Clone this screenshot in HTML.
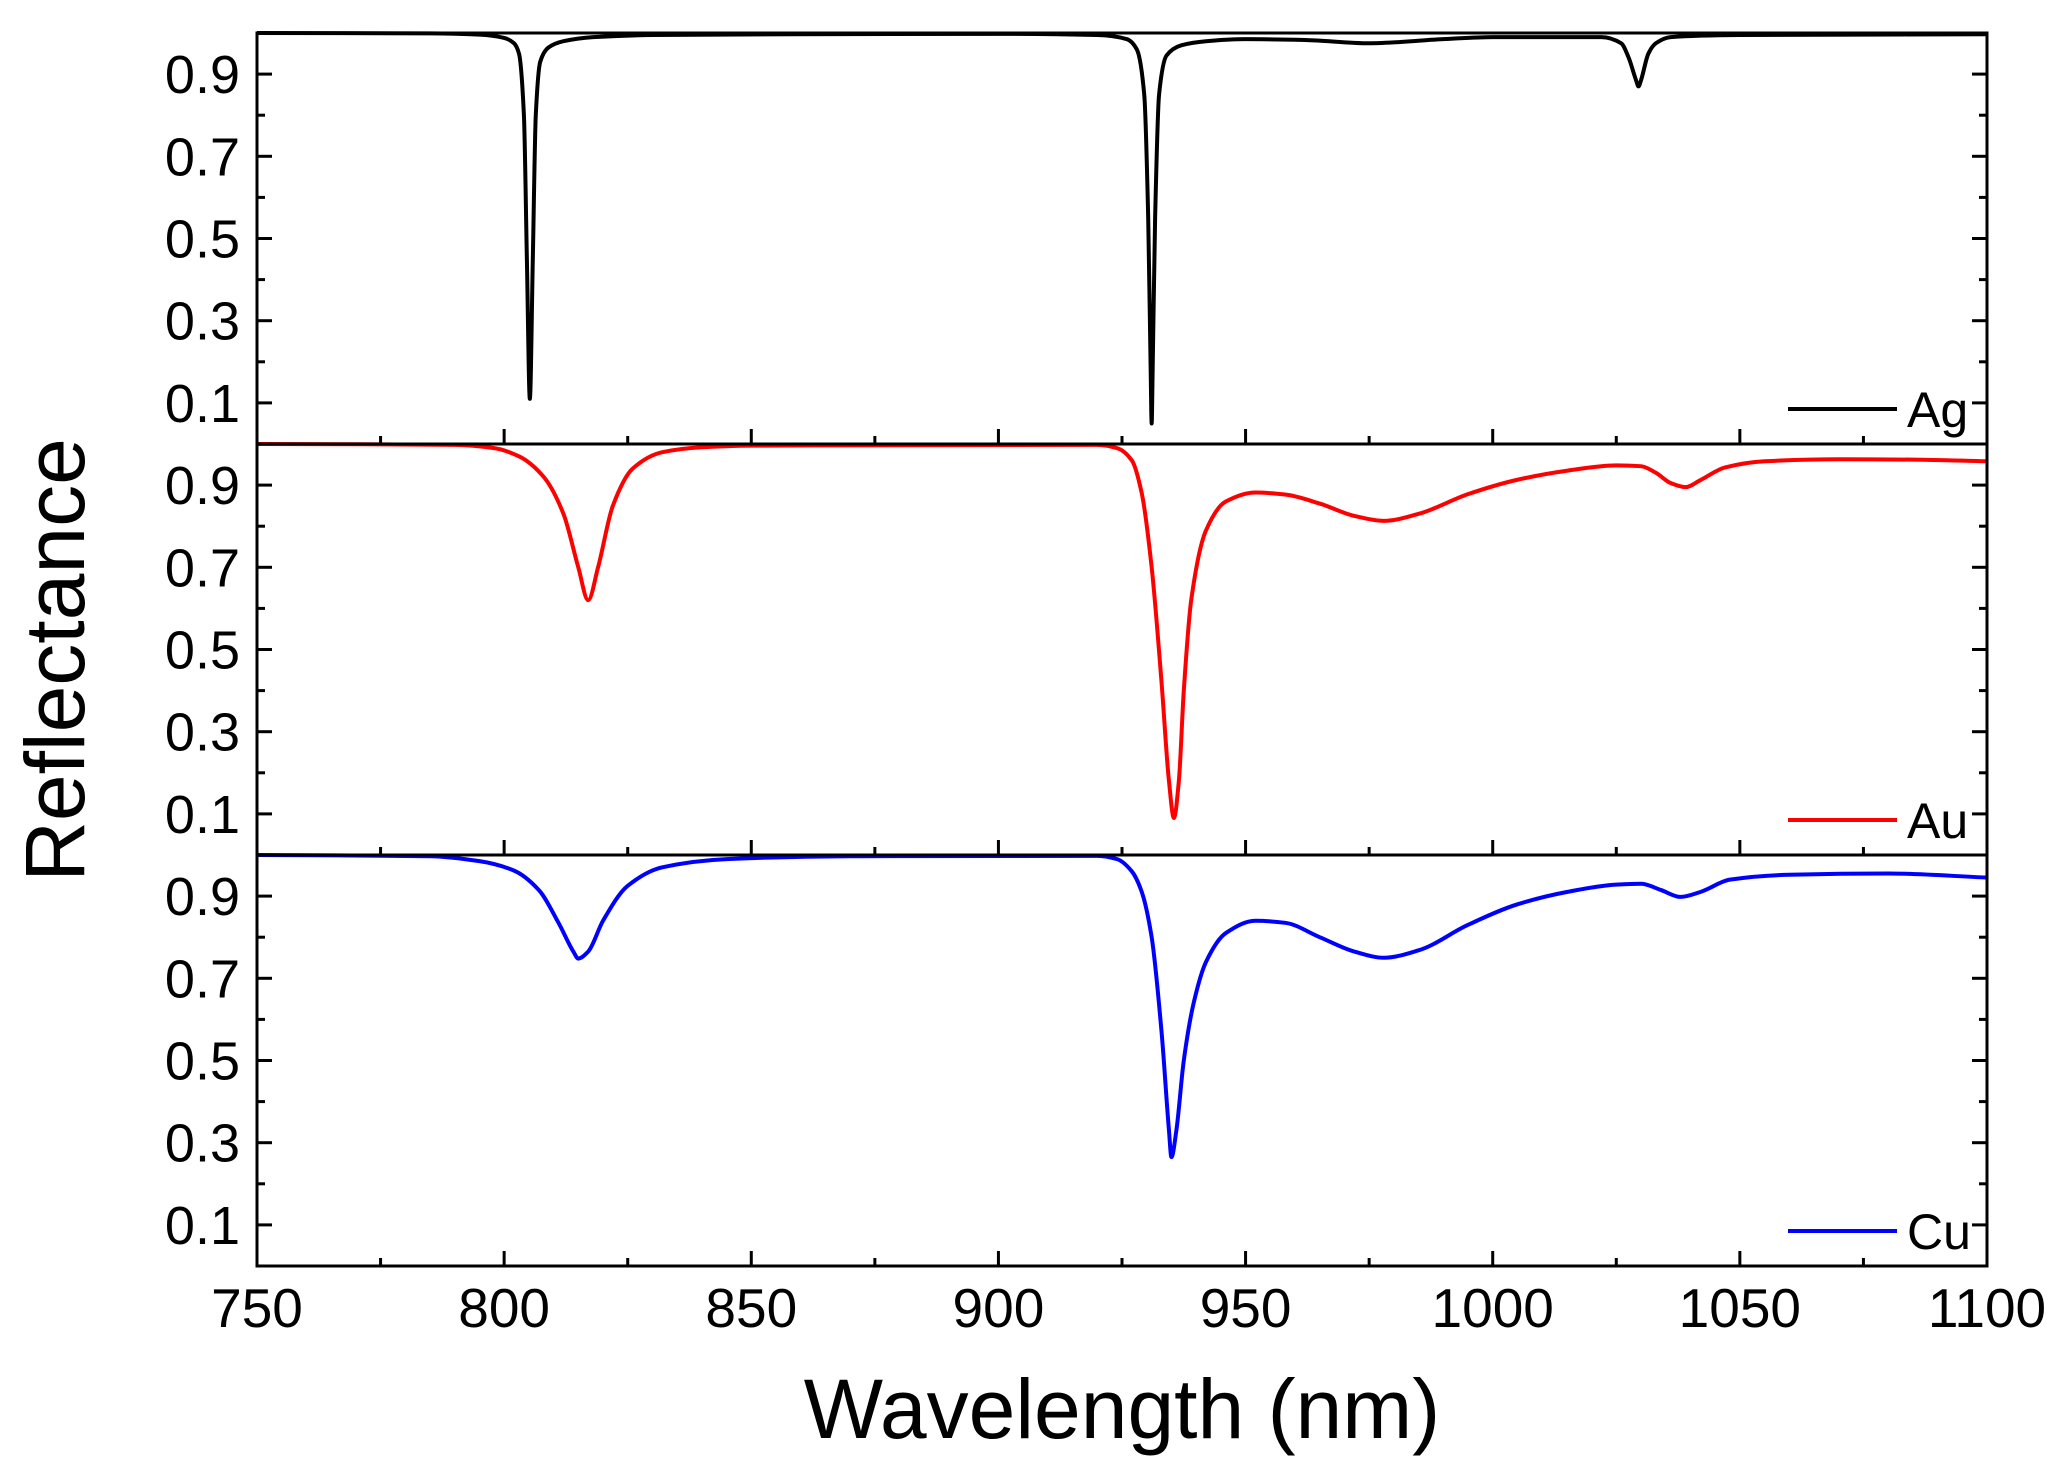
<!DOCTYPE html>
<html><head><meta charset="utf-8"><style>
html,body{margin:0;padding:0;background:#fff;}
svg{display:block;font-family:"Liberation Sans",sans-serif;}
</style></head><body>
<svg id="chart" width="2070" height="1480" viewBox="0 0 2070 1480" xmlns="http://www.w3.org/2000/svg"></svg>
<script>
const xTicks=[750,800,850,900,950,1000,1050,1100];
const yTicks=[0.1,0.3,0.5,0.7,0.9];
const seriesNames=["Ag","Au","Cu"];
const seriesColors=["#000000","#ff0000","#0000ff"];
const agX=[750,785,795,800,802,803,804,804.6,805.2,805.8,806.4,807.3,809,812,818,830,900,920,926,928,929.5,930.3,930.8,931,931.2,931.7,932.5,934,937,942,950,962,975,990,1000,1022,1026,1027.5,1029,1029.5,1030,1031.5,1033,1036,1050,1100];
const agY=[1.0,0.999,0.996,0.988,0.975,0.95,0.8,0.45,0.11,0.45,0.8,0.93,0.965,0.98,0.99,0.995,0.998,0.995,0.985,0.96,0.85,0.55,0.18,0.05,0.18,0.55,0.85,0.945,0.97,0.98,0.985,0.983,0.975,0.985,0.99,0.99,0.975,0.94,0.885,0.87,0.885,0.95,0.975,0.99,0.995,0.997];
const auX=[750,790,798,803,808,812,815,817,819,822,826,832,840,850,920,924,927,929,931,933,934.5,935.5,936.5,937.5,939,942,946,952,958,965,972,978,985,995,1005,1015,1025,1030,1033,1036,1039,1042,1047,1055,1070,1085,1100];
const auY=[1,0.998,0.99,0.97,0.92,0.83,0.7,0.62,0.7,0.85,0.94,0.98,0.992,0.996,0.998,0.99,0.96,0.88,0.7,0.42,0.18,0.09,0.18,0.4,0.62,0.79,0.86,0.882,0.877,0.855,0.825,0.813,0.83,0.878,0.913,0.935,0.948,0.946,0.93,0.905,0.895,0.912,0.943,0.958,0.963,0.962,0.958];
const cuX=[750,785,795,802,807,811,814,815,817,820,825,832,845,870,920,924,927,929,931,933,934.5,935,936,937.5,939.5,942,946,952,958,965,972,978,985,995,1005,1015,1025,1030,1034,1038,1042,1048,1060,1080,1100];
const cuY=[1,0.997,0.985,0.962,0.915,0.835,0.765,0.748,0.765,0.84,0.925,0.97,0.99,0.997,0.998,0.99,0.96,0.91,0.8,0.57,0.33,0.265,0.33,0.5,0.64,0.74,0.81,0.84,0.835,0.8,0.765,0.75,0.768,0.83,0.88,0.91,0.928,0.93,0.915,0.898,0.91,0.94,0.952,0.955,0.945];
const allX=[agX,auX,cuX], allY=[agY,auY,cuY];

const svg=document.getElementById('chart');
const NS='http://www.w3.org/2000/svg';
const L=257,R=1987,T=33,B=1266,PH=(B-T)/3;
const xs=v=>L+(v-750)/(1100-750)*(R-L);
const ys=(i,v)=>T+i*PH+(1-v)*PH;
function mk(tag,attrs,parent){const e=document.createElementNS(NS,tag);for(const k in attrs)e.setAttribute(k,attrs[k]);(parent||svg).appendChild(e);return e;}
// monotone cubic path through screen points
function monoPath(px,py){
  const n=px.length,dx=[],m=[],t=[];
  for(let k=0;k<n-1;k++){dx[k]=px[k+1]-px[k];m[k]=(py[k+1]-py[k])/dx[k];}
  t[0]=m[0];t[n-1]=m[n-2];
  for(let k=1;k<n-1;k++){
    if(m[k-1]*m[k]<=0)t[k]=0;
    else{const w1=2*dx[k]+dx[k-1],w2=dx[k]+2*dx[k-1];t[k]=(w1+w2)/(w1/m[k-1]+w2/m[k]);}
  }
  let d='M'+px[0].toFixed(2)+','+py[0].toFixed(2);
  for(let k=0;k<n-1;k++){
    const h=dx[k]/3;
    d+='C'+(px[k]+h).toFixed(2)+','+(py[k]+t[k]*h).toFixed(2)+' '+(px[k+1]-h).toFixed(2)+','+(py[k+1]-t[k+1]*h).toFixed(2)+' '+px[k+1].toFixed(2)+','+py[k+1].toFixed(2);
  }
  return d;
}

for(let i=0;i<3;i++){
  const g=mk('g',{});
  
  
  const px=allX[i].map(xs), py=allY[i].map(v=>ys(i,v));
  const p=mk('path',{d:monoPath(px,py),fill:'none',stroke:seriesColors[i],'stroke-width':4,'stroke-linejoin':'round'},g);
  
  
  for(let k=1;k<=9;k++){
    const v=k/10, y=ys(i,v), major=(k%2===1), len=major?15:8;
    mk('line',{x1:L,x2:L+len,y1:y,y2:y,stroke:'#000','stroke-width':3},g);
    mk('line',{x1:R,x2:R-len,y1:y,y2:y,stroke:'#000','stroke-width':3},g);
  }
  yTicks.forEach(v=>{
    const t=mk('text',{x:240,y:ys(i,v)+19,'text-anchor':'end','font-size':54,fill:'#000'},g);
    t.textContent=v.toFixed(1);
    
    
  });
  const yb=T+(i+1)*PH;
  for(let w=775;w<1100;w+=25){
    const len=(w%50===0)?15:8;
    mk('line',{x1:xs(w),x2:xs(w),y1:yb,y2:yb-len,stroke:'#000','stroke-width':3},g);
  }
  const ly=T+(i+1)*PH-35;
  const ll=mk('line',{x1:1788,x2:1897,y1:ly,y2:ly,stroke:seriesColors[i],'stroke-width':4},g);
  
  
  const lt=mk('text',{x:1907,y:ly+18,'font-size':50,fill:'#000'},g);
  lt.textContent=seriesNames[i];
  
  
}
for(let i=0;i<3;i++){
  const r=mk('rect',{x:L,y:T+i*PH,width:R-L,height:PH,fill:'none',stroke:'#000','stroke-width':3});
  
  
}
xTicks.forEach(w=>{
  const t=mk('text',{x:xs(w),y:1327,'text-anchor':'middle','font-size':55,fill:'#000'});
  t.textContent=w;
  
  
});
const xt=mk('text',{x:1122,y:1438,'text-anchor':'middle','font-size':84,fill:'#000'});
xt.textContent='Wavelength (nm)';


const yt=mk('text',{x:0,y:0,'text-anchor':'middle','font-size':84,fill:'#000',transform:'translate(84,660) rotate(-90)'});
yt.textContent='Reflectance';


</script>
</body></html>
